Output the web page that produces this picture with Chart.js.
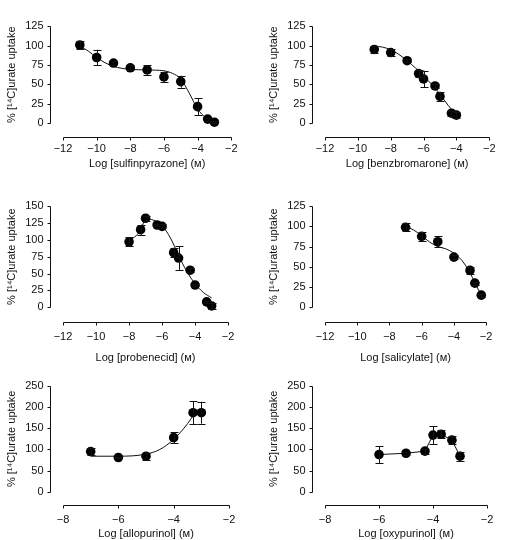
<!DOCTYPE html>
<html>
<head>
<meta charset="utf-8">
<script src="https://cdn.jsdelivr.net/npm/chart.js@4/dist/chart.umd.min.js"></script>
<style>
  body { margin: 0; background: #fff; }
  #wrap { position: relative; width: 515px; height: 540px; overflow: hidden; }
  canvas { position: absolute; }
</style>
</head>
<body>
<div id="wrap">
  <canvas id="c1"></canvas>
  <canvas id="c2"></canvas>
  <canvas id="c3"></canvas>
  <canvas id="c4"></canvas>
  <canvas id="c5"></canvas>
  <canvas id="c6"></canvas>
</div>
<script>
// tick labels
const xTicksWide = [-12, -10, -8, -6, -4, -2];
const xTicksNarrow = [-8, -6, -4, -2];
const yTicks125 = [0, 25, 50, 75, 100, 125];
const yTicks150 = [0, 25, 50, 75, 100, 125, 150];
const yTicks250 = [0, 50, 100, 150, 200, 250];

// sulfinpyrazone
const sulfinLogC = [-11, -10, -9, -8, -7, -6, -5, -4, -3.4, -3];
const sulfinUptake = [100.7, 84.6, 77.5, 71.4, 68.6, 59.6, 53.6, 21.4, 5.4, 1.4];
const sulfinSem = [5, 10, 2, 3.4, 6.3, 7, 7.7, 10.7, 2, 1.5];
const sulfinFitLogC = [-11, -10.5, -10, -9.5, -9, -8.5, -8, -7, -6, -5.5, -5, -4.5, -4, -3.5, -3];
const sulfinFitUptake = [99.3, 92.9, 84.6, 77.9, 73.2, 70.7, 69.3, 68.6, 67.5, 64.3, 57, 39, 18.6, 7.1, 2.9];

// benzbromarone
const benzLogC = [-9, -8, -7, -6.3, -6, -5.3, -5, -4.3, -4];
const benzUptake = [95, 91, 80.5, 64, 57, 48, 34.5, 13, 10.5];
const benzSem = [4, 5, 2, 4.5, 10.5, 2.5, 5.5, 3, 4];
const benzFitLogC = [-9, -8.5, -8, -7.5, -7, -6.5, -6, -5.5, -5, -4.5, -4];
const benzFitUptake = [99.3, 98, 94.6, 88.6, 80.4, 71.4, 60.7, 50, 37.5, 23, 11];

// probenecid
const probLogC = [-8, -7.3, -7, -6.3, -6, -5.3, -5, -4.3, -4, -3.3, -3];
const probUptake = [97, 115, 132, 122, 120, 81, 73, 55, 33, 8, 2];
const probSem = [6.5, 7.5, 4, 2, 3, 6.5, 17.5, 3, 2, 2, 5];
const probFitLogC = [-8, -7.3, -7, -6.5, -6, -5.5, -5, -4.5, -4, -3.5, -3];
const probFitUptake = [98, 114, 131, 129, 121, 103, 77, 53, 35, 22, 14];

// salicylate
const saliLogC = [-7, -6, -5, -4, -3, -2.7, -2.3];
const saliUptake = [98.8, 87.6, 81, 62, 45.6, 29.8, 15];
const saliSem = [5, 5.5, 7, 2, 4, 2, 2];
const saliFitLogC = [-7, -6.5, -6, -5.5, -5, -4.5, -4, -3.5, -3, -2.7, -2.3];
const saliFitUptake = [99.9, 95.5, 88.4, 80.5, 75, 72.2, 66.8, 57.8, 42.7, 30.5, 14.7];

// allopurinol
const alloLogC = [-7, -6, -5, -4, -3.3, -3];
const alloUptake = [95, 81, 84, 128, 187, 187];
const alloSem = [8, 2, 8, 13, 27, 26];
const alloFitLogC = [-7, -6, -5, -4.5, -4, -3.5, -3.3];
const alloFitUptake = [84, 84, 89, 100, 124, 161, 180];

// oxypurinol (points joined directly)
const oxyLogC = [-6, -5, -4.3, -4, -3.7, -3.3, -3];
const oxyUptake = [88, 91, 96, 134, 136, 122, 84];
const oxySem = [20, 3, 6, 21, 10, 9, 11];

const yTitle = "% [\u00B9\u2074C]urate uptake";
const FONT = "'Liberation Sans', Arial, 'DejaVu Sans', sans-serif";
const INK = "#111";

// layout of the figure
const cols = [
  { left: 0, width: 257, padRight: 11.3 },
  { left: 262, width: 253, padRight: 7.7 }
];
const rows = [
  { top: 0, h: 180, yMaxPx: 7, yZeroPx: 123.3, axisPx: 136.5, labelPx: 149.4, titlePx: 164.3 },
  { top: 180, h: 186, yMaxPx: 190.5, yZeroPx: 307.3, axisPx: 321.5, labelPx: 336.5, titlePx: 357.5 },
  { top: 360, h: 181, yMaxPx: 375, yZeroPx: 491.7, axisPx: 505.3, labelPx: 520, titlePx: 534 }
];
const Y_WIDTH = 63;
const Y_GAP = 12.5;

const panels = [
  { id: "c1", col: 0, row: 0, label: "Log [sulfinpyrazone] (\u1D0D)", xTicks: xTicksWide, yTicks: yTicks125,
    x: sulfinLogC, y: sulfinUptake, err: sulfinSem, fitX: sulfinFitLogC, fitY: sulfinFitUptake },
  { id: "c2", col: 1, row: 0, label: "Log [benzbromarone] (\u1D0D)", xTicks: xTicksWide, yTicks: yTicks125,
    x: benzLogC, y: benzUptake, err: benzSem, fitX: benzFitLogC, fitY: benzFitUptake },
  { id: "c3", col: 0, row: 1, label: "Log [probenecid] (\u1D0D)", xTicks: xTicksWide, yTicks: yTicks150,
    x: probLogC, y: probUptake, err: probSem, fitX: probFitLogC, fitY: probFitUptake },
  { id: "c4", col: 1, row: 1, label: "Log [salicylate] (\u1D0D)", xTicks: xTicksWide, yTicks: yTicks125,
    x: saliLogC, y: saliUptake, err: saliSem, fitX: saliFitLogC, fitY: saliFitUptake },
  { id: "c5", col: 0, row: 2, label: "Log [allopurinol] (\u1D0D)", xTicks: xTicksNarrow, yTicks: yTicks250,
    x: alloLogC, y: alloUptake, err: alloSem, fitX: alloFitLogC, fitY: alloFitUptake },
  { id: "c6", col: 1, row: 2, label: "Log [oxypurinol] (\u1D0D)", xTicks: xTicksNarrow, yTicks: yTicks250,
    x: oxyLogC, y: oxyUptake, err: oxySem, fitX: null, fitY: null }
];

// error bars with caps
const errorBars = {
  id: "errorBars",
  afterDatasetsDraw(chart) {
    const { ctx, scales: { x, y } } = chart;
    chart.data.datasets.forEach((ds) => {
      if (!ds.errors) return;
      ctx.save();
      ctx.strokeStyle = INK;
      ctx.lineWidth = 1;
      ctx.beginPath();
      ds.data.forEach((p, i) => {
        const e = ds.errors[i];
        const px = Math.round(x.getPixelForValue(p.x)) + 0.5;
        const top = y.getPixelForValue(p.y + e);
        const bot = y.getPixelForValue(p.y - e);
        ctx.moveTo(px, top); ctx.lineTo(px, bot);
        ctx.moveTo(px - 4, Math.round(top) + 0.5); ctx.lineTo(px + 4, Math.round(top) + 0.5);
        ctx.moveTo(px - 4, Math.round(bot) + 0.5); ctx.lineTo(px + 4, Math.round(bot) + 0.5);
      });
      ctx.stroke();
      ctx.restore();
    });
  }
};

// detached axis lines, like the original figure
function offsetAxes(gapBelow) {
  return {
    id: "offsetAxes",
    afterDraw(chart) {
      const { ctx, chartArea, scales: { x, y } } = chart;
      ctx.save();
      ctx.strokeStyle = INK;
      ctx.lineWidth = 1;
      ctx.beginPath();
      const yx = Math.floor(chartArea.left - Y_GAP) + 0.5;
      ctx.moveTo(yx, Math.round(y.getPixelForValue(y.max)) + 0.5);
      ctx.lineTo(yx, Math.round(y.getPixelForValue(y.min)) + 0.5);
      y.ticks.forEach((t) => {
        const py = Math.round(y.getPixelForValue(t.value)) + 0.5;
        ctx.moveTo(yx - 3, py); ctx.lineTo(yx, py);
      });
      const xy = Math.round(chartArea.bottom + gapBelow) + 0.5;
      const x0 = Math.round(x.getPixelForValue(x.min)) + 0.5;
      const x1 = Math.round(x.getPixelForValue(x.max)) + 0.5;
      ctx.moveTo(x0, xy); ctx.lineTo(x1, xy);
      x.ticks.forEach((t) => {
        const px = Math.round(x.getPixelForValue(t.value)) + 0.5;
        ctx.moveTo(px, xy); ctx.lineTo(px, xy + 3);
      });
      ctx.stroke();
      ctx.restore();
    }
  };
}

const minus = (v) => String(v).replace("-", "\u2212");

panels.forEach((p) => {
  const c = cols[p.col];
  const r = rows[p.row];
  const canvas = document.getElementById(p.id);
  canvas.width = c.width;
  canvas.height = r.h;
  canvas.style.left = c.left + "px";
  canvas.style.top = r.top + "px";

  const padTop = r.yMaxPx - r.top;
  const plotBottom = r.yZeroPx - r.top;
  const padBottom = Math.max(0, r.top + r.h - r.titlePx - 6.6);
  const xHeight = r.h - padBottom - plotBottom;

  const points = p.x.map((v, i) => ({ x: v, y: p.y[i] }));
  const datasets = [];
  if (p.fitX) {
    datasets.push({
      data: p.fitX.map((v, i) => ({ x: v, y: p.fitY[i] })),
      showLine: true,
      pointRadius: 0,
      borderColor: INK,
      borderWidth: 1,
      cubicInterpolationMode: "monotone",
      clip: false,
      order: 2
    });
  }
  datasets.push({
    data: points,
    errors: p.err,
    showLine: !p.fitX,
    borderColor: INK,
    borderWidth: 1,
    pointRadius: 4.8,
    pointBackgroundColor: "#000",
    pointBorderColor: "#000",
    pointBorderWidth: 0,
    clip: false,
    order: 1
  });

  new Chart(canvas.getContext("2d"), {
    type: "scatter",
    data: { datasets },
    options: {
      responsive: false,
      animation: false,
      events: [],
      layout: { padding: { top: padTop, right: c.padRight, bottom: padBottom, left: 0 } },
      plugins: {
        legend: { display: false },
        tooltip: { enabled: false }
      },
      scales: {
        x: {
          type: "linear",
          min: p.xTicks[0],
          max: p.xTicks[p.xTicks.length - 1],
          afterBuildTicks: (s) => { s.ticks = p.xTicks.map((v) => ({ value: v })); },
          afterFit: (s) => { s.height = xHeight; },
          grid: { display: false, drawTicks: false },
          border: { display: false },
          ticks: {
            padding: r.labelPx - r.yZeroPx - 6.6,
            color: INK,
            font: { family: FONT, size: 11 },
            maxRotation: 0,
            autoSkip: false,
            callback: (v) => minus(v)
          },
          title: {
            display: true,
            text: p.label,
            color: INK,
            font: { family: FONT, size: 11 },
            padding: { top: 0, bottom: 0 }
          }
        },
        y: {
          min: p.yTicks[0],
          max: p.yTicks[p.yTicks.length - 1],
          afterBuildTicks: (s) => { s.ticks = p.yTicks.map((v) => ({ value: v })); },
          afterFit: (s) => { s.width = Y_WIDTH; },
          grid: { display: false, drawTicks: false },
          border: { display: false },
          ticks: {
            padding: 19.5,
            color: INK,
            font: { family: FONT, size: 11 },
            autoSkip: false
          },
          title: {
            display: true,
            text: yTitle,
            color: INK,
            font: { family: FONT, size: 11 },
            padding: { top: 5.5, bottom: 0 }
          }
        }
      }
    },
    plugins: [errorBars, offsetAxes(r.axisPx - r.yZeroPx)]
  });
});
</script>
</body>
</html>
